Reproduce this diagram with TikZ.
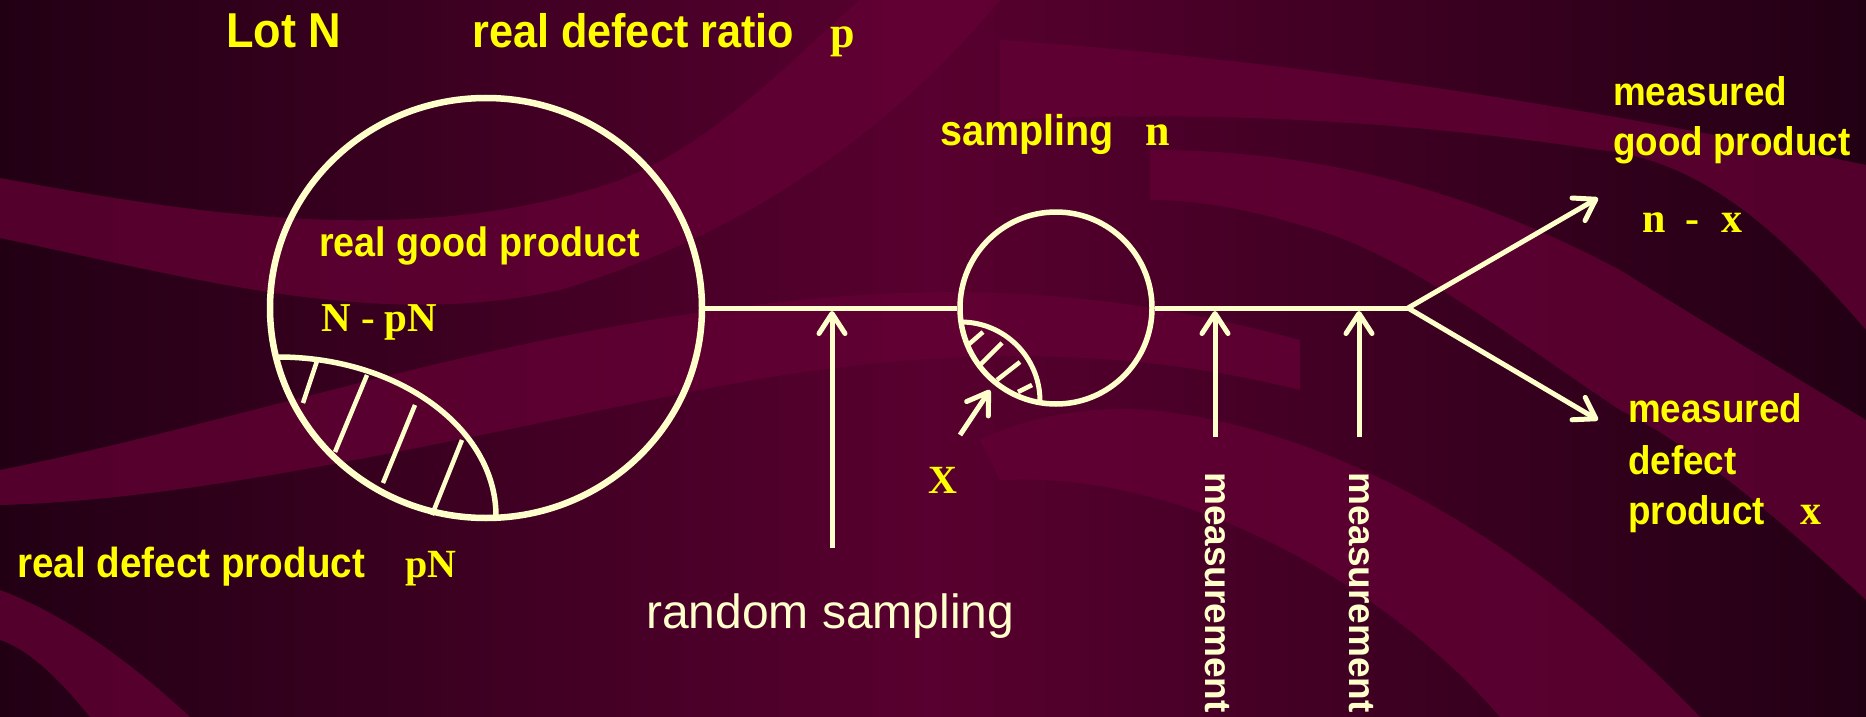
\documentclass[tikz,border=0pt]{standalone}
\usepackage{fontspec}
\setmainfont{Liberation Sans}
\newfontfamily\signfont{Liberation Sans}[FakeStretch=0.92]
\newfontfamily\varfont{Liberation Serif}
\usetikzlibrary{arrows.meta, shapes.geometric, positioning}
\definecolor{bgdark}{RGB}{34,0,20}
\definecolor{bgmid}{RGB}{88,0,47}
\definecolor{bgband}{RGB}{100,0,53}
\definecolor{chalk}{RGB}{255,255,204}
\definecolor{signyellow}{RGB}{255,255,0}

\begin{document}
\begin{tikzpicture}[
    x=1pt, y=-1pt,
    lbl/.style={anchor=base west, inner sep=0pt, text=signyellow},
    note/.style={inner sep=0pt, text=chalk},
    var/.style={anchor=base west, inner sep=0pt, text=signyellow,
      font=\varfont\bfseries\fontsize{42}{50}\selectfont},
    ring/.style={draw=chalk, inner sep=0pt},
    wire/.style={draw=chalk, line width=5pt},
    arrow/.style={chalk, line width=5pt, -{Straight Barb[length=20pt,width=26pt,round]}},
    hatch/.style={chalk, line width=4.5pt},
    band/.style={fill=bgband, draw=none, opacity=0.75}
]
% background
\useasboundingbox (0,0) rectangle (1866,717);
\shade[left color=bgdark, right color=bgdark, middle color=bgmid] (0,0) rectangle (1866,717);
\fill[band] (0,178) .. controls (200,215) and (420,250) .. (620,180)
  .. controls (720,140) and (790,60) .. (860,0) -- (1000,0)
  .. controls (900,120) and (760,230) .. (560,290)
  .. controls (380,330) and (200,280) .. (0,238) -- cycle;
\fill[band] (0,470) .. controls (250,420) and (500,330) .. (800,300)
  .. controls (1000,280) and (1150,300) .. (1300,340) -- (1300,390)
  .. controls (1100,340) and (900,350) .. (700,390)
  .. controls (450,440) and (200,500) .. (0,505) -- cycle;
\fill[band] (0,590) .. controls (80,620) and (150,680) .. (190,717) -- (90,717)
  .. controls (60,680) and (30,650) .. (0,640) -- cycle;
\fill[band] (1000,40) .. controls (1300,60) and (1600,110) .. (1866,165) -- (1866,330)
  .. controls (1780,230) and (1700,160) .. (1600,150)
  .. controls (1400,120) and (1200,110) .. (1000,120) -- cycle;
\fill[band] (1150,150) .. controls (1300,150) and (1450,180) .. (1620,270)
  .. controls (1700,320) and (1800,380) .. (1866,420) -- (1866,600)
  .. controls (1780,520) and (1700,450) .. (1620,410)
  .. controls (1500,330) and (1400,250) .. (1300,225)
  .. controls (1250,210) and (1200,200) .. (1150,200) -- cycle;
\fill[band] (1000,480) .. controls (1200,470) and (1400,600) .. (1500,717) -- (1700,717)
  .. controls (1550,560) and (1350,430) .. (1150,410)
  .. controls (1080,405) and (1020,420) .. (980,440) -- cycle;

% lot and sample
\node[ring, ellipse, line width=6.5pt, minimum width=432pt, minimum height=420pt] (lot) at (486,308) {};
\node[ring, circle, line width=5.5pt, minimum size=192pt] (sample) at (1056,308) {};

% defect parts
\draw[chalk, line width=5.5pt] (278,357) .. controls (398,357) and (496,428) .. (496,516);
\foreach \a/\b/\c/\d in {318/358/303/403, 367/375/335/452, 415/405/383/483, 462/440/432/515}
  \draw[hatch] (\a,\b) -- (\c,\d);
\draw[chalk, line width=5pt] (961,322) .. controls (1004,322) and (1040,357) .. (1040,401);
\foreach \a/\b/\c/\d in {983/332/968/345, 1002/343/980/365, 1020/362/997/380, 1032/385/1018/392}
  \draw[hatch] (\a,\b) -- (\c,\d);

% flow
\coordinate (split) at (1408,308);
\coordinate (goodtip) at (1598,198);
\coordinate (badtip) at (1598,420);
\draw[wire] (lot.east) -- (sample.west);
\draw[wire] (sample.east) -- (split);
\draw[arrow] (split) -- (goodtip);
\draw[arrow] (split) -- (badtip);

\coordinate (randtail) at (832,548);
\coordinate (randtip) at (832,311);
\coordinate (xtail) at (960,435);
\coordinate (xtip) at (990,390);
\coordinate (meastailA) at (1215,437);
\coordinate (meastipA) at (1215,311);
\coordinate (meastailB) at (1359,437);
\coordinate (meastipB) at (1359,311);
\draw[arrow] (randtail) -- (randtip);
\draw[arrow] (xtail) -- (xtip);
\draw[arrow] (meastailA) -- (meastipA);
\draw[arrow] (meastailB) -- (meastipB);

% labels
\node[lbl, font=\signfont\bfseries\fontsize{49}{60}\selectfont] (lotlbl) at (226,48) {Lot N};
\node[lbl, font=\signfont\bfseries\fontsize{47}{56}\selectfont] (ratiolbl) at (472,48) {real defect ratio};
\node[var, font=\varfont\bfseries\fontsize{44}{52}\selectfont] (ratiovar) at (830,48) {p};
\node[lbl, font=\signfont\bfseries\fontsize{41}{50}\selectfont] (goodlbl) at (319,256) {real good product};
\node[var, font=\varfont\bfseries\fontsize{41}{50}\selectfont] (goodvar) at (321,331) {N - pN};
\node[lbl, font=\signfont\bfseries\fontsize{42}{50}\selectfont] (defectlbl) at (17,577) {real defect product};
\node[var, font=\varfont\bfseries\fontsize{40}{48}\selectfont] (defectvar) at (405,577) {pN};
\node[lbl, font=\signfont\bfseries\fontsize{43}{52}\selectfont] (samplelbl) at (940,145) {sampling};
\node[var, font=\varfont\bfseries\fontsize{44}{52}\selectfont] (samplevar) at (1145,145) {n};
\node[var, anchor=center, font=\varfont\bfseries\fontsize{40}{48}\selectfont] (xlbl) at (943,480) {X};
\node[note, anchor=base west, font=\fontsize{48}{56}\selectfont] (randlbl) at (646,628) {random sampling};
\node[note, anchor=west, rotate=-90, font=\bfseries\fontsize{37}{44}\selectfont] (measlblA) at (1217,472) {measurement};
\node[note, anchor=west, rotate=-90, font=\bfseries\fontsize{37}{44}\selectfont] (measlblB) at (1361,472) {measurement};
\node[lbl, font=\signfont\bfseries\fontsize{40}{48}\selectfont] (mgoodA) at (1613,105) {measured};
\node[lbl, font=\signfont\bfseries\fontsize{40}{48}\selectfont] (mgoodB) at (1613,155) {good product};
\node[var] (mgoodvar) at (1642,232) {n\hspace{20pt}-\hspace{22pt}x};
\node[lbl, font=\signfont\bfseries\fontsize{40}{48}\selectfont] (mbadA) at (1628,422) {measured};
\node[lbl, font=\signfont\bfseries\fontsize{40}{48}\selectfont] (mbadB) at (1628,474) {defect};
\node[lbl, font=\signfont\bfseries\fontsize{40}{48}\selectfont] (mbadC) at (1628,524) {product};
\node[var] (mbadvar) at (1800,524) {x};
\end{tikzpicture}
\end{document}
